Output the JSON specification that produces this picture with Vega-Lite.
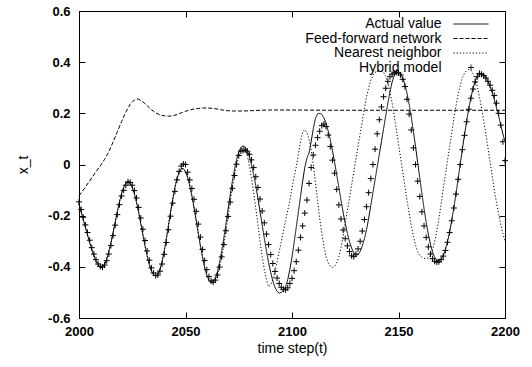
{
"$schema":"https://vega.github.io/schema/vega-lite/v6.json",
"autosize":{"type":"none"},
"padding":{"left":79,"top":11,"right":27,"bottom":49},
"width":426,"height":307,
"background":"white",
"datasets":{
"m":[
{"t":2000,"a":-0.155,"n":-0.155,"h":-0.146},
{"t":2001,"a":-0.185,"n":-0.185,"h":-0.176},
{"t":2002,"a":-0.215,"n":-0.215,"h":-0.206},
{"t":2003,"a":-0.245,"n":-0.245,"h":-0.236},
{"t":2004,"a":-0.275,"n":-0.275,"h":-0.266},
{"t":2005,"a":-0.305,"n":-0.305,"h":-0.296},
{"t":2006,"a":-0.333,"n":-0.333,"h":-0.325},
{"t":2007,"a":-0.357,"n":-0.357,"h":-0.35},
{"t":2008,"a":-0.378,"n":-0.378,"h":-0.372},
{"t":2009,"a":-0.393,"n":-0.393,"h":-0.389},
{"t":2010,"a":-0.401,"n":-0.401,"h":-0.399},
{"t":2011,"a":-0.401,"n":-0.401,"h":-0.401},
{"t":2012,"a":-0.39,"n":-0.39,"h":-0.393},
{"t":2013,"a":-0.37,"n":-0.37,"h":-0.376},
{"t":2014,"a":-0.341,"n":-0.341,"h":-0.35},
{"t":2015,"a":-0.306,"n":-0.306,"h":-0.317},
{"t":2016,"a":-0.266,"n":-0.266,"h":-0.278},
{"t":2017,"a":-0.225,"n":-0.225,"h":-0.237},
{"t":2018,"a":-0.184,"n":-0.184,"h":-0.196},
{"t":2019,"a":-0.146,"n":-0.146,"h":-0.157},
{"t":2020,"a":-0.113,"n":-0.113,"h":-0.123},
{"t":2021,"a":-0.089,"n":-0.089,"h":-0.101},
{"t":2022,"a":-0.073,"n":-0.073,"h":-0.081},
{"t":2023,"a":-0.068,"n":-0.068,"h":-0.068},
{"t":2024,"a":-0.073,"n":-0.073,"h":-0.07},
{"t":2025,"a":-0.089,"n":-0.089,"h":-0.081},
{"t":2026,"a":-0.114,"n":-0.114,"h":-0.102},
{"t":2027,"a":-0.148,"n":-0.148,"h":-0.131},
{"t":2028,"a":-0.187,"n":-0.187,"h":-0.168},
{"t":2029,"a":-0.23,"n":-0.23,"h":-0.209},
{"t":2030,"a":-0.275,"n":-0.275,"h":-0.253},
{"t":2031,"a":-0.318,"n":-0.318,"h":-0.297},
{"t":2032,"a":-0.357,"n":-0.357,"h":-0.338},
{"t":2033,"a":-0.391,"n":-0.391,"h":-0.374},
{"t":2034,"a":-0.416,"n":-0.416,"h":-0.404},
{"t":2035,"a":-0.431,"n":-0.431,"h":-0.424},
{"t":2036,"a":-0.437,"n":-0.437,"h":-0.434},
{"t":2037,"a":-0.43,"n":-0.43,"h":-0.432},
{"t":2038,"a":-0.411,"n":-0.411,"h":-0.417},
{"t":2039,"a":-0.38,"n":-0.38,"h":-0.389},
{"t":2040,"a":-0.339,"n":-0.339,"h":-0.351},
{"t":2041,"a":-0.291,"n":-0.291,"h":-0.305},
{"t":2042,"a":-0.239,"n":-0.239,"h":-0.255},
{"t":2043,"a":-0.186,"n":-0.186,"h":-0.202},
{"t":2044,"a":-0.136,"n":-0.136,"h":-0.151},
{"t":2045,"a":-0.091,"n":-0.091,"h":-0.105},
{"t":2046,"a":-0.055,"n":-0.055,"h":-0.06},
{"t":2047,"a":-0.03,"n":-0.03,"h":-0.027},
{"t":2048,"a":-0.017,"n":-0.017,"h":-0.006},
{"t":2049,"a":-0.016,"n":-0.016,"h":0.002},
{"t":2050,"a":-0.028,"n":-0.028,"h":0.0},
{"t":2051,"a":-0.05,"n":-0.05,"h":-0.03},
{"t":2052,"a":-0.082,"n":-0.082,"h":-0.06},
{"t":2053,"a":-0.122,"n":-0.122,"h":-0.094},
{"t":2054,"a":-0.168,"n":-0.168,"h":-0.136},
{"t":2055,"a":-0.218,"n":-0.218,"h":-0.183},
{"t":2056,"a":-0.269,"n":-0.269,"h":-0.233},
{"t":2057,"a":-0.318,"n":-0.318,"h":-0.284},
{"t":2058,"a":-0.363,"n":-0.363,"h":-0.332},
{"t":2059,"a":-0.402,"n":-0.402,"h":-0.375},
{"t":2060,"a":-0.432,"n":-0.432,"h":-0.411},
{"t":2061,"a":-0.453,"n":-0.453,"h":-0.438},
{"t":2062,"a":-0.461,"n":-0.461,"h":-0.455},
{"t":2063,"a":-0.459,"n":-0.462,"h":-0.46},
{"t":2064,"a":-0.445,"n":-0.455,"h":-0.452},
{"t":2065,"a":-0.419,"n":-0.435,"h":-0.432},
{"t":2066,"a":-0.383,"n":-0.403,"h":-0.401},
{"t":2067,"a":-0.338,"n":-0.362,"h":-0.361},
{"t":2068,"a":-0.287,"n":-0.314,"h":-0.313},
{"t":2069,"a":-0.231,"n":-0.26,"h":-0.259},
{"t":2070,"a":-0.174,"n":-0.203,"h":-0.203},
{"t":2071,"a":-0.119,"n":-0.146,"h":-0.147},
{"t":2072,"a":-0.066,"n":-0.092,"h":-0.093},
{"t":2073,"a":-0.019,"n":-0.043,"h":-0.043},
{"t":2074,"a":0.02,"n":0.0,"h":0.001},
{"t":2075,"a":0.049,"n":0.035,"h":0.035},
{"t":2076,"a":0.067,"n":0.06,"h":0.052},
{"t":2077,"a":0.073,"n":0.07,"h":0.055},
{"t":2078,"a":0.068,"n":0.06,"h":0.057},
{"t":2079,"a":0.054,"n":0.035,"h":0.052},
{"t":2080,"a":0.031,"n":-0.005,"h":0.04},
{"t":2081,"a":-0.001,"n":-0.055,"h":0.018},
{"t":2082,"a":-0.039,"n":-0.11,"h":-0.012},
{"t":2083,"a":-0.083,"n":-0.17,"h":-0.048},
{"t":2084,"a":-0.132,"n":-0.235,"h":-0.09},
{"t":2085,"a":-0.184,"n":-0.3,"h":-0.135},
{"t":2086,"a":-0.236,"n":-0.36,"h":-0.182},
{"t":2087,"a":-0.288,"n":-0.41,"h":-0.228},
{"t":2088,"a":-0.337,"n":-0.45,"h":-0.272},
{"t":2089,"a":-0.383,"n":-0.478,"h":-0.313},
{"t":2090,"a":-0.422,"n":-0.47,"h":-0.352},
{"t":2091,"a":-0.455,"n":-0.45,"h":-0.387},
{"t":2092,"a":-0.48,"n":-0.42,"h":-0.418},
{"t":2093,"a":-0.496,"n":-0.38,"h":-0.444},
{"t":2094,"a":-0.503,"n":-0.34,"h":-0.465},
{"t":2095,"a":-0.5,"n":-0.3,"h":-0.48},
{"t":2096,"a":-0.492,"n":-0.26,"h":-0.488},
{"t":2097,"a":-0.478,"n":-0.22,"h":-0.49},
{"t":2098,"a":-0.45,"n":-0.18,"h":-0.482},
{"t":2099,"a":-0.41,"n":-0.14,"h":-0.465},
{"t":2100,"a":-0.362,"n":-0.09,"h":-0.445},
{"t":2101,"a":-0.305,"n":-0.05,"h":-0.415},
{"t":2102,"a":-0.245,"n":-0.01,"h":-0.38},
{"t":2103,"a":-0.185,"n":0.04,"h":-0.335},
{"t":2104,"a":-0.125,"n":0.09,"h":-0.285},
{"t":2105,"a":-0.065,"n":0.128,"h":-0.24},
{"t":2106,"a":-0.012,"n":0.137,"h":-0.19},
{"t":2107,"a":0.025,"n":0.125,"h":-0.139},
{"t":2108,"a":0.045,"n":0.1,"h":-0.074},
{"t":2109,"a":0.09,"n":0.06,"h":-0.012},
{"t":2110,"a":0.14,"n":0.0,"h":0.037},
{"t":2111,"a":0.18,"n":-0.07,"h":0.075},
{"t":2112,"a":0.198,"n":-0.14,"h":0.105},
{"t":2113,"a":0.2,"n":-0.21,"h":0.13},
{"t":2114,"a":0.196,"n":-0.27,"h":0.152},
{"t":2115,"a":0.182,"n":-0.32,"h":0.158},
{"t":2116,"a":0.161,"n":-0.36,"h":0.148},
{"t":2117,"a":0.131,"n":-0.385,"h":0.115},
{"t":2118,"a":0.096,"n":-0.398,"h":0.07},
{"t":2119,"a":0.054,"n":-0.402,"h":0.017},
{"t":2120,"a":0.008,"n":-0.398,"h":-0.034},
{"t":2121,"a":-0.04,"n":-0.385,"h":-0.097},
{"t":2122,"a":-0.09,"n":-0.36,"h":-0.158},
{"t":2123,"a":-0.139,"n":-0.325,"h":-0.213},
{"t":2124,"a":-0.187,"n":-0.28,"h":-0.256},
{"t":2125,"a":-0.23,"n":-0.23,"h":-0.29},
{"t":2126,"a":-0.269,"n":-0.18,"h":-0.318},
{"t":2127,"a":-0.302,"n":-0.13,"h":-0.34},
{"t":2128,"a":-0.327,"n":-0.08,"h":-0.357},
{"t":2129,"a":-0.345,"n":-0.03,"h":-0.36},
{"t":2130,"a":-0.354,"n":0.02,"h":-0.35},
{"t":2131,"a":-0.353,"n":0.07,"h":-0.33},
{"t":2132,"a":-0.34,"n":0.12,"h":-0.3},
{"t":2133,"a":-0.318,"n":0.17,"h":-0.26},
{"t":2134,"a":-0.29,"n":0.22,"h":-0.215},
{"t":2135,"a":-0.255,"n":0.265,"h":-0.165},
{"t":2136,"a":-0.21,"n":0.3,"h":-0.11},
{"t":2137,"a":-0.16,"n":0.33,"h":-0.055},
{"t":2138,"a":-0.11,"n":0.35,"h":0.0},
{"t":2139,"a":-0.06,"n":0.36,"h":0.06},
{"t":2140,"a":-0.01,"n":0.365,"h":0.12},
{"t":2141,"a":0.04,"n":0.366,"h":0.175},
{"t":2142,"a":0.09,"n":0.365,"h":0.225},
{"t":2143,"a":0.14,"n":0.36,"h":0.265},
{"t":2144,"a":0.19,"n":0.345,"h":0.298},
{"t":2145,"a":0.24,"n":0.32,"h":0.325},
{"t":2146,"a":0.285,"n":0.285,"h":0.343},
{"t":2147,"a":0.322,"n":0.24,"h":0.353},
{"t":2148,"a":0.347,"n":0.19,"h":0.358},
{"t":2149,"a":0.358,"n":0.135,"h":0.36},
{"t":2150,"a":0.36,"n":0.08,"h":0.357},
{"t":2151,"a":0.355,"n":0.025,"h":0.35},
{"t":2152,"a":0.339,"n":-0.03,"h":0.333},
{"t":2153,"a":0.313,"n":-0.085,"h":0.305},
{"t":2154,"a":0.278,"n":-0.14,"h":0.255},
{"t":2155,"a":0.235,"n":-0.19,"h":0.197},
{"t":2156,"a":0.185,"n":-0.24,"h":0.135},
{"t":2157,"a":0.129,"n":-0.28,"h":0.065},
{"t":2158,"a":0.07,"n":-0.315,"h":0.0},
{"t":2159,"a":0.008,"n":-0.34,"h":-0.065},
{"t":2160,"a":-0.054,"n":-0.355,"h":-0.125},
{"t":2161,"a":-0.115,"n":-0.363,"h":-0.185},
{"t":2162,"a":-0.173,"n":-0.367,"h":-0.24},
{"t":2163,"a":-0.226,"n":-0.368,"h":-0.285},
{"t":2164,"a":-0.273,"n":-0.365,"h":-0.322},
{"t":2165,"a":-0.312,"n":-0.355,"h":-0.35},
{"t":2166,"a":-0.343,"n":-0.335,"h":-0.368},
{"t":2167,"a":-0.363,"n":-0.3,"h":-0.378},
{"t":2168,"a":-0.374,"n":-0.26,"h":-0.382},
{"t":2169,"a":-0.375,"n":-0.21,"h":-0.38},
{"t":2170,"a":-0.37,"n":-0.155,"h":-0.372},
{"t":2171,"a":-0.356,"n":-0.095,"h":-0.358},
{"t":2172,"a":-0.334,"n":-0.04,"h":-0.336},
{"t":2173,"a":-0.302,"n":0.015,"h":-0.304},
{"t":2174,"a":-0.264,"n":0.07,"h":-0.266},
{"t":2175,"a":-0.218,"n":0.125,"h":-0.22},
{"t":2176,"a":-0.168,"n":0.18,"h":-0.17},
{"t":2177,"a":-0.114,"n":0.23,"h":-0.116},
{"t":2178,"a":-0.056,"n":0.275,"h":-0.058},
{"t":2179,"a":0.003,"n":0.31,"h":0.0},
{"t":2180,"a":0.061,"n":0.34,"h":0.058},
{"t":2181,"a":0.117,"n":0.357,"h":0.114},
{"t":2182,"a":0.17,"n":0.367,"h":0.167},
{"t":2183,"a":0.219,"n":0.372,"h":0.216},
{"t":2184,"a":0.262,"n":0.368,"h":0.259},
{"t":2185,"a":0.298,"n":0.355,"h":0.295},
{"t":2186,"a":0.326,"n":0.335,"h":0.323},
{"t":2187,"a":0.345,"n":0.305,"h":0.343},
{"t":2188,"a":0.355,"n":0.265,"h":0.356},
{"t":2189,"a":0.356,"n":0.22,"h":0.353},
{"t":2190,"a":0.35,"n":0.17,"h":0.347},
{"t":2191,"a":0.34,"n":0.12,"h":0.338},
{"t":2192,"a":0.325,"n":0.065,"h":0.325},
{"t":2193,"a":0.305,"n":0.01,"h":0.31},
{"t":2194,"a":0.281,"n":-0.045,"h":0.29},
{"t":2195,"a":0.253,"n":-0.1,"h":0.27},
{"t":2196,"a":0.222,"n":-0.15,"h":0.24},
{"t":2197,"a":0.19,"n":-0.195,"h":0.2},
{"t":2198,"a":0.155,"n":-0.235,"h":0.154},
{"t":2199,"a":0.12,"n":-0.27,"h":0.089},
{"t":2200,"a":0.09,"n":-0.3,"h":0.015}
],
"f":[
{"t":2000,"f":-0.122},{"t":2002,"f":-0.1},{"t":2004,"f":-0.076},{"t":2006,"f":-0.052},
{"t":2008,"f":-0.028},{"t":2010,"f":-0.005},{"t":2012,"f":0.02},{"t":2014,"f":0.05},
{"t":2016,"f":0.088},{"t":2018,"f":0.128},{"t":2020,"f":0.168},{"t":2022,"f":0.205},
{"t":2024,"f":0.235},{"t":2026,"f":0.252},{"t":2027,"f":0.256},{"t":2028,"f":0.255},
{"t":2030,"f":0.245},{"t":2032,"f":0.23},{"t":2034,"f":0.214},{"t":2036,"f":0.202},
{"t":2038,"f":0.194},{"t":2040,"f":0.19},{"t":2042,"f":0.189},{"t":2044,"f":0.19},
{"t":2046,"f":0.195},{"t":2048,"f":0.202},{"t":2050,"f":0.208},{"t":2052,"f":0.213},
{"t":2054,"f":0.217},{"t":2056,"f":0.219},{"t":2058,"f":0.221},{"t":2060,"f":0.221},
{"t":2062,"f":0.22},{"t":2064,"f":0.218},{"t":2066,"f":0.215},{"t":2068,"f":0.212},
{"t":2070,"f":0.21},{"t":2073,"f":0.209},{"t":2076,"f":0.209},{"t":2080,"f":0.21},
{"t":2085,"f":0.212},{"t":2090,"f":0.213},{"t":2100,"f":0.213},{"t":2120,"f":0.212},
{"t":2150,"f":0.212},{"t":2200,"f":0.212}
]
},
"layer":[
{
"data":{"name":"m"},
"transform":[{"fold":["a","n"],"as":["s","v"]}],
"mark":{"type":"line","color":"black","strokeWidth":1},
"encoding":{
"x":{"field":"t","type":"quantitative","scale":{"domain":[2000,2200],"nice":false},"axis":{"values":[2000,2050,2100,2150,2200],"format":"d","title":"time step(t)","labelPadding":13,"titlePadding":3,"labelFlush":false,"labelOverlap":false}},
"y":{"field":"v","type":"quantitative","scale":{"domain":[-0.6,0.6],"nice":false},"axis":{"values":[-0.6,-0.4,-0.2,0,0.2,0.4,0.6],"labelExpr":"datum.value == 0 ? '0' : (datum.value < 0 ? '-' : '') + format(abs(datum.value), '.1f')","title":"x_t","labelPadding":15,"titlePadding":17,"labelFlush":false,"labelOverlap":false}},
"strokeDash":{"field":"s","type":"nominal","scale":{"domain":["a","f","n","h"],"range":[[1,0],[4,2],[1.2,2],[1,0]]},
"legend":{"title":null,"orient":"none","legendX":385,"legendY":6,"padding":0,"rowPadding":0.5,
"labelAlign":"right","labelOffset":-36.5,"labelFont":"Liberation Sans","labelFontSize":14,"labelColor":"black","labelLimit":0,
"symbolType":"M-3,0L3,0","symbolSize":136,"symbolStrokeWidth":1,"symbolStrokeColor":"black","symbolFillColor":"transparent",
"labelExpr":"{'a':'Actual value','f':'Feed-forward network','n':'Nearest neighbor','h':'Hybrid model'}[datum.label]",
"encode":{"symbols":{"update":{"shape":{"signal":"datum.value === 'h' ? 'M-0.5,0L0.5,0M0,-0.5L0,0.5' : 'M-3,0L3,0'"}}}}}}
}
},
{
"data":{"name":"f"},
"transform":[{"fold":["f"],"as":["s","v"]}],
"mark":{"type":"line","color":"black","strokeWidth":1},
"encoding":{
"x":{"field":"t","type":"quantitative","axis":null},
"y":{"field":"v","type":"quantitative","axis":null},
"strokeDash":{"field":"s","type":"nominal"}
}
},
{
"data":{"name":"m"},
"mark":{"type":"point","shape":"M-1,0L1,0M0,-1L0,1","size":36,"filled":false,"stroke":"black","strokeWidth":1,"opacity":1},
"encoding":{
"x":{"field":"t","type":"quantitative","axis":{"orient":"top","labels":false,"title":null,"values":[2000,2050,2100,2150,2200]}},
"y":{"field":"h","type":"quantitative","axis":{"orient":"right","labels":false,"title":null,"values":[-0.6,-0.4,-0.2,0,0.2,0.4,0.6]}}
}
}
],
"resolve":{"axis":{"x":"independent","y":"independent"}},
"config":{
"view":{"stroke":"black","strokeWidth":1},
"axis":{"grid":false,"domainColor":"black","tickColor":"black","tickSize":-6,"labelColor":"black","titleColor":"black",
"labelFont":"Liberation Sans","titleFont":"Liberation Sans","labelFontSize":13,"labelFontWeight":"bold","titleFontSize":14,"titleFontWeight":"normal"}
}
}
